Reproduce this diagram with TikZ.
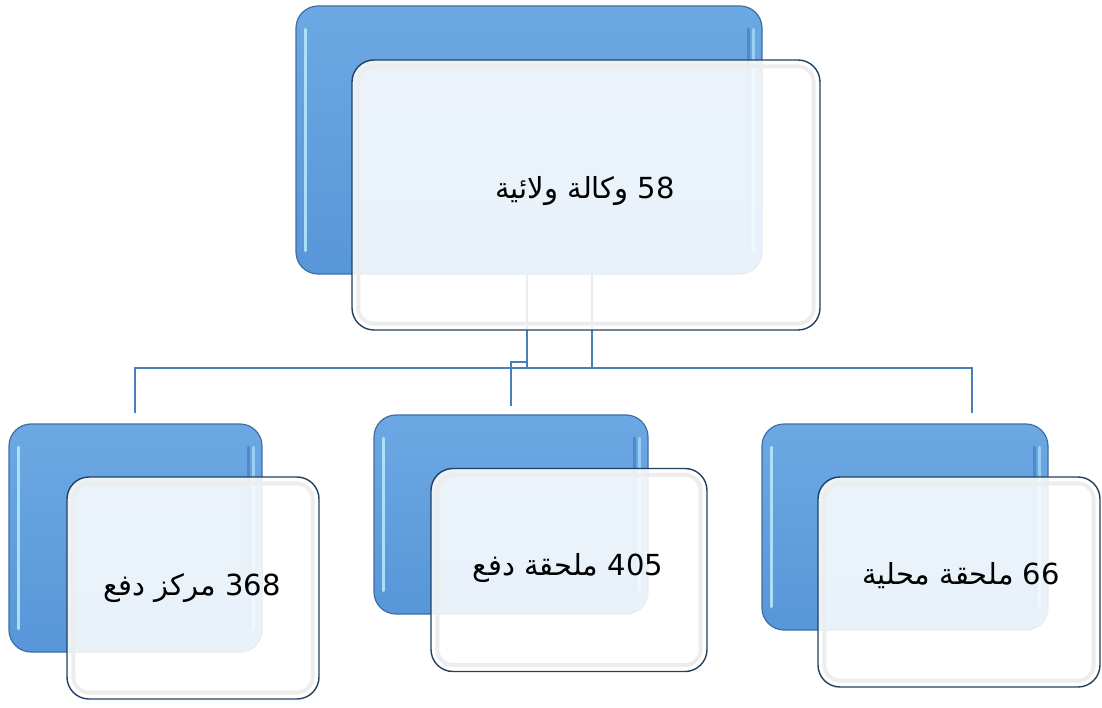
\documentclass[tikz,border=0pt]{standalone}
\usepackage{fontspec}
\newfontfamily\arabicfont[Script=Arabic]{DejaVu Sans}
\TeXXeTstate=1
\definecolor{bluetop}{HTML}{6CA8E3}
\definecolor{bluebot}{HTML}{5796D8}
\definecolor{blueedge}{HTML}{3D6FA6}
\definecolor{frontedge}{HTML}{22405F}
\definecolor{linkc}{HTML}{4A7EB9}
\definecolor{hlc}{HTML}{B8ECFF}
\definecolor{shadec}{HTML}{3E78B8}
\tikzset{
  backbox/.style={draw=blueedge, line width=1.2pt, top color=bluetop, bottom color=bluebot, rounded corners=22pt, inner sep=0pt},
  frontbox/.style={draw=frontedge, line width=1.4pt, fill=white, fill opacity=0.87, text opacity=1, rounded corners=22pt, inner sep=0pt},
  innerring/.style={draw=black!7, line width=4pt, rounded corners=16pt},
  hl/.style={draw=hlc, line width=3.5pt, line cap=round, opacity=0.85},
  shade/.style={draw=shadec, line width=3.5pt, line cap=round, opacity=0.6},
  link/.style={draw=linkc, line width=2.4pt},
  lbl/.style={font=\arabicfont\fontsize{29}{34}\selectfont, text=black}
}
\newcommand\glassy[1]{%
  \draw[hl] ([xshift=10pt,yshift=-24pt]#1.north west) -- ([xshift=10pt,yshift=24pt]#1.south west);
  \draw[shade] ([xshift=-14pt,yshift=-24pt]#1.north east) -- ([xshift=-14pt,yshift=24pt]#1.south east);
  \draw[hl, opacity=0.6] ([xshift=-9pt,yshift=-24pt]#1.north east) -- ([xshift=-9pt,yshift=24pt]#1.south east);
}
\newcommand\ring[1]{%
  \draw[innerring] ([shift={(7pt,-7pt)}]#1.north west) rectangle ([shift={(-7pt,7pt)}]#1.south east);
}
\begin{document}
\begin{tikzpicture}[x=1pt,y=-1pt]
\useasboundingbox[fill=white] (0,0) rectangle (1102,708);
% back (blue) boxes
\node[backbox, minimum width=466pt, minimum height=268pt] (tb) at (529,140) {};
\node[backbox, minimum width=253pt, minimum height=228pt] (lb) at (135.5,538) {};
\node[backbox, minimum width=274pt, minimum height=199pt] (mb) at (511,514.5) {};
\node[backbox, minimum width=286pt, minimum height=206pt] (rb) at (905,527) {};
\glassy{tb}\glassy{lb}\glassy{mb}\glassy{rb}
% connector points
\coordinate (c1) at (527,274);
\coordinate (c2) at (592,274);
\coordinate (j1) at (527,368);
\coordinate (j2) at (592,368);
\coordinate (s1) at (527,362);
\coordinate (s2) at (511,362);
\coordinate (dm) at (511,406);
\coordinate (bl) at (135,368);
\coordinate (dl) at (135,413);
\coordinate (br) at (972,368);
\coordinate (dr) at (972,413);
\draw[link] (c1) -- (j1) -- (j2);
\draw[link] (s1) -- (s2) -- (dm);
\draw[link] (c2) -- (j2) -- (bl) -- (dl);
\draw[link] (j2) -- (br) -- (dr);
% front boxes
\node[frontbox, minimum width=468pt, minimum height=270pt] (tf) at (586,195) {};
\node[frontbox, minimum width=252pt, minimum height=222pt] (lf) at (193,588) {};
\node[frontbox, minimum width=276pt, minimum height=203pt] (mf) at (569,570) {};
\node[frontbox, minimum width=282pt, minimum height=210pt] (rf) at (959,582) {};
\ring{tf}\ring{lf}\ring{mf}\ring{rf}
% labels
\node[lbl] (t0) at (585,191) {\beginR\beginL 58\endL{} وكالة ولائية\endR};
\node[lbl] (t1) at (192,588) {\beginR\beginL 368\endL{} مركز دفع\endR};
\node[lbl] (t2) at (568,568) {\beginR\beginL 405\endL{} ملحقة دفع\endR};
\node[lbl] (t3) at (961,576) {\beginR\beginL 66\endL{} ملحقة محلية\endR};
\end{tikzpicture}
\end{document}
